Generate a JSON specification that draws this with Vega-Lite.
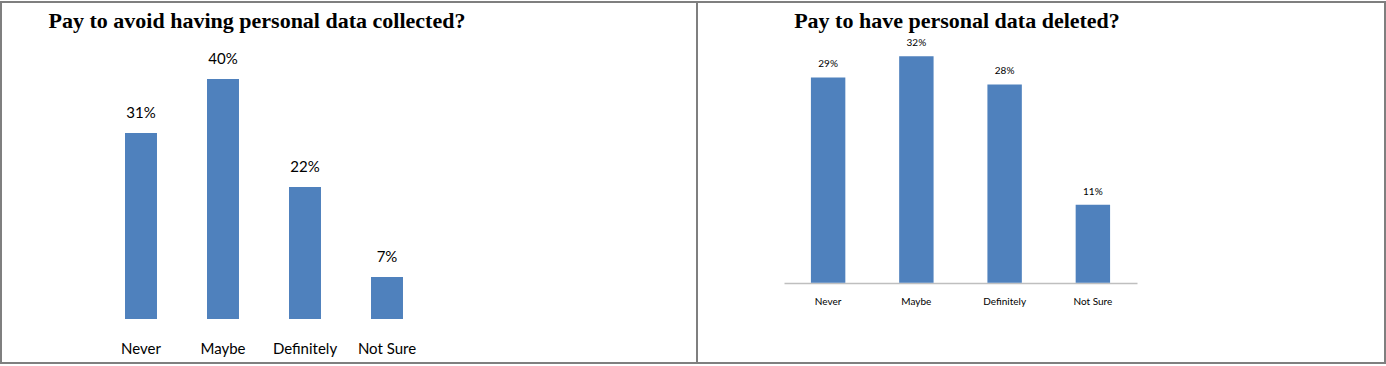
{
  "$schema": "https://vega.github.io/schema/vega-lite/v6.json",
  "background": "white",
  "padding": {"top": 1, "left": 0, "right": 0, "bottom": 0},
  "spacing": 0,
  "bounds": "flush",
  "datasets": {
    "collected": [
      {"answer": "Never", "share": 0.31},
      {"answer": "Maybe", "share": 0.40},
      {"answer": "Definitely", "share": 0.22},
      {"answer": "Not Sure", "share": 0.07}
    ],
    "deleted": [
      {"answer": "Never", "share": 0.29},
      {"answer": "Maybe", "share": 0.32},
      {"answer": "Definitely", "share": 0.28},
      {"answer": "Not Sure", "share": 0.11}
    ]
  },
  "hconcat": [
    {
      "data": {"name": "collected"},
      "width": 696,
      "height": 361,
      "title": {"text": "Pay to avoid having personal data collected?", "font": "Liberation Serif", "fontSize": 22, "fontWeight": "bold", "color": "#000000", "anchor": "middle", "dx": -92, "offset": -31},
      "encoding": {
        "x": {"field": "answer", "type": "nominal", "sort": null,
          "scale": {"range": [99, 427], "paddingInner": 0.61, "paddingOuter": 0.305},
          "axis": {"title": null, "orient": "bottom", "offset": -44, "domain": false, "ticks": false, "tickSize": 0, "labelAngle": 0, "labelFont": "Lato", "labelFontSize": 15, "labelColor": "#000000", "labelPadding": 29, "labelBaseline": "middle"}},
        "y": {"field": "share", "type": "quantitative", "scale": {"domain": [-0.0733, 0.5283], "nice": false, "zero": false}, "axis": null}
      },
      "layer": [
        {"mark": {"type": "bar", "color": "#4F81BD"}, "encoding": {"y2": {"datum": 0}}},
        {"mark": {"type": "text", "dy": -20, "font": "Lato", "fontSize": 15, "color": "#000000", "baseline": "middle"},
         "encoding": {"text": {"field": "share", "type": "quantitative", "format": ".0%"}}}
      ]
    },
    {
      "data": {"name": "deleted"},
      "width": 688,
      "height": 361,
      "title": {"text": "Pay to have personal data deleted?", "font": "Liberation Serif", "fontSize": 22, "fontWeight": "bold", "color": "#000000", "anchor": "middle", "dx": -84, "offset": -31},
      "encoding": {
        "x": {"field": "answer", "type": "nominal", "sort": null,
          "scale": {"range": [87, 440], "paddingInner": 0.61, "paddingOuter": 0.305},
          "axis": {"title": null, "orient": "bottom", "offset": -80, "domain": true, "domainColor": "#bfbfbf", "domainWidth": 1.5, "ticks": false, "tickSize": 0, "labelAngle": 0, "labelFont": "Lato", "labelFontSize": 10, "labelColor": "#000000", "labelPadding": 18, "labelBaseline": "middle"}},
        "y": {"field": "share", "type": "quantitative", "scale": {"domain": [-0.1134, 0.3965], "nice": false, "zero": false}, "axis": null}
      },
      "layer": [
        {"mark": {"type": "bar", "color": "#4F81BD"}, "encoding": {"y2": {"datum": 0}}},
        {"mark": {"type": "text", "dy": -13, "font": "Lato", "fontSize": 10, "color": "#000000", "baseline": "middle"},
         "encoding": {"text": {"field": "share", "type": "quantitative", "format": ".0%"}}}
      ]
    }
  ],
  "config": {
    "view": {"stroke": "#7f7f7f", "strokeWidth": 2},
    "axis": {"grid": false}
  }
}
